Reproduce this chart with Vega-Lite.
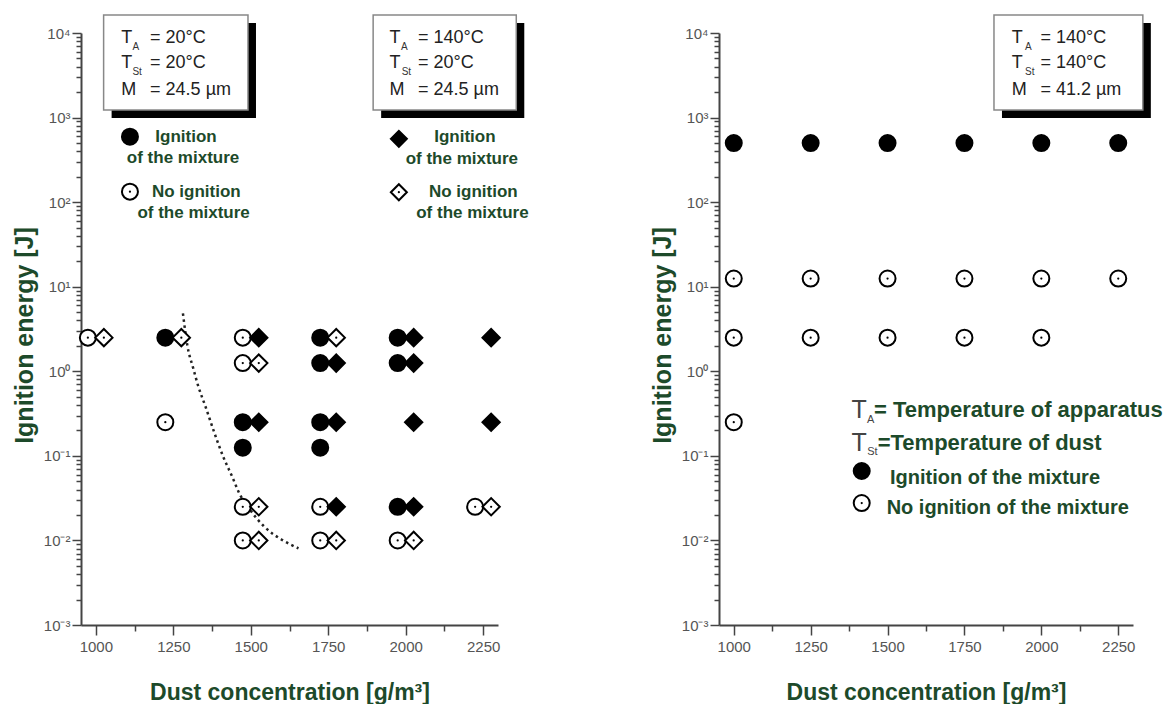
{
  "$schema": "https://vega.github.io/schema/vega-lite/v6.json",
  "background": "white",
  "padding": {"left": 12, "top": 14, "right": 0, "bottom": 0},
  "spacing": 121,
  "config": {
    "view": {"stroke": null},
    "font": "Liberation Sans",
    "axis": {
      "grid": false,
      "domainColor": "#444",
      "domainWidth": 2,
      "tickColor": "#444",
      "tickWidth": 1.5,
      "labelFont": "Liberation Sans",
      "labelFontSize": 15,
      "labelColor": "#555",
      "labelFlush": false,
      "labelOverlap": false,
      "titleFont": "Liberation Sans",
      "titleFontSize": 23,
      "titleFontWeight": "bold",
      "titleColor": "#1d4a2a"
    }
  },
  "datasets": {
    "leftPoints": [
      {"conc": 1000, "energy": 2.5, "series": "A", "result": "no ignition"},
      {"conc": 1250, "energy": 2.5, "series": "A", "result": "ignition"},
      {"conc": 1250, "energy": 0.25, "series": "A", "result": "no ignition"},
      {"conc": 1500, "energy": 2.5, "series": "A", "result": "no ignition"},
      {"conc": 1500, "energy": 1.25, "series": "A", "result": "no ignition"},
      {"conc": 1500, "energy": 0.25, "series": "A", "result": "ignition"},
      {"conc": 1500, "energy": 0.125, "series": "A", "result": "ignition"},
      {"conc": 1500, "energy": 0.025, "series": "A", "result": "no ignition"},
      {"conc": 1500, "energy": 0.01, "series": "A", "result": "no ignition"},
      {"conc": 1750, "energy": 2.5, "series": "A", "result": "ignition"},
      {"conc": 1750, "energy": 1.25, "series": "A", "result": "ignition"},
      {"conc": 1750, "energy": 0.25, "series": "A", "result": "ignition"},
      {"conc": 1750, "energy": 0.125, "series": "A", "result": "ignition"},
      {"conc": 1750, "energy": 0.025, "series": "A", "result": "no ignition"},
      {"conc": 1750, "energy": 0.01, "series": "A", "result": "no ignition"},
      {"conc": 2000, "energy": 2.5, "series": "A", "result": "ignition"},
      {"conc": 2000, "energy": 1.25, "series": "A", "result": "ignition"},
      {"conc": 2000, "energy": 0.025, "series": "A", "result": "ignition"},
      {"conc": 2000, "energy": 0.01, "series": "A", "result": "no ignition"},
      {"conc": 2250, "energy": 0.025, "series": "A", "result": "no ignition"},
      {"conc": 1000, "energy": 2.5, "series": "B", "result": "no ignition"},
      {"conc": 1250, "energy": 2.5, "series": "B", "result": "no ignition"},
      {"conc": 1500, "energy": 2.5, "series": "B", "result": "ignition"},
      {"conc": 1500, "energy": 1.25, "series": "B", "result": "no ignition"},
      {"conc": 1500, "energy": 0.25, "series": "B", "result": "ignition"},
      {"conc": 1500, "energy": 0.025, "series": "B", "result": "no ignition"},
      {"conc": 1500, "energy": 0.01, "series": "B", "result": "no ignition"},
      {"conc": 1750, "energy": 2.5, "series": "B", "result": "no ignition"},
      {"conc": 1750, "energy": 1.25, "series": "B", "result": "ignition"},
      {"conc": 1750, "energy": 0.25, "series": "B", "result": "ignition"},
      {"conc": 1750, "energy": 0.025, "series": "B", "result": "ignition"},
      {"conc": 1750, "energy": 0.01, "series": "B", "result": "no ignition"},
      {"conc": 2000, "energy": 2.5, "series": "B", "result": "ignition"},
      {"conc": 2000, "energy": 1.25, "series": "B", "result": "ignition"},
      {"conc": 2000, "energy": 0.25, "series": "B", "result": "ignition"},
      {"conc": 2000, "energy": 0.025, "series": "B", "result": "ignition"},
      {"conc": 2000, "energy": 0.01, "series": "B", "result": "no ignition"},
      {"conc": 2250, "energy": 2.5, "series": "B", "result": "ignition"},
      {"conc": 2250, "energy": 0.25, "series": "B", "result": "ignition"},
      {"conc": 2250, "energy": 0.025, "series": "B", "result": "no ignition"}
    ],
    "leftCurve": [
      {"conc": 1281, "energy": 4.85},
      {"conc": 1296, "energy": 1.95},
      {"conc": 1313, "energy": 1.13},
      {"conc": 1331, "energy": 0.657},
      {"conc": 1354, "energy": 0.381},
      {"conc": 1383, "energy": 0.185},
      {"conc": 1411, "energy": 0.0977},
      {"conc": 1440, "energy": 0.0567},
      {"conc": 1463, "energy": 0.036},
      {"conc": 1498, "energy": 0.0229},
      {"conc": 1544, "energy": 0.0145},
      {"conc": 1602, "energy": 0.0101},
      {"conc": 1654, "energy": 0.00807}
    ],
    "leftBoxes": [
      {"conc": 1025, "conc2": 1491, "energy": 1229, "energy2": 16330},
      {"conc": 1895, "conc2": 2357, "energy": 1229, "energy2": 16330}
    ],
    "leftText": [
      {"conc": 1082, "energy": 8650, "text": "T", "role": "box"},
      {"conc": 1175, "energy": 8650, "text": "= 20°C", "role": "box"},
      {"conc": 1082, "energy": 4384, "text": "T", "role": "box"},
      {"conc": 1175, "energy": 4384, "text": "= 20°C", "role": "box"},
      {"conc": 1082, "energy": 2118, "text": "M", "role": "box"},
      {"conc": 1175, "energy": 2118, "text": "= 24.5 µm", "role": "box"},
      {"conc": 1118, "energy": 6890, "text": "A", "role": "sub"},
      {"conc": 1118, "energy": 3458, "text": "St", "role": "sub"},
      {"conc": 1948, "energy": 8650, "text": "T", "role": "box"},
      {"conc": 2040, "energy": 8650, "text": "= 140°C", "role": "box"},
      {"conc": 1948, "energy": 4384, "text": "T", "role": "box"},
      {"conc": 2040, "energy": 4384, "text": "=  20°C", "role": "box"},
      {"conc": 1948, "energy": 2118, "text": "M", "role": "box"},
      {"conc": 2040, "energy": 2118, "text": "= 24.5 µm", "role": "box"},
      {"conc": 1985, "energy": 6890, "text": "A", "role": "sub"},
      {"conc": 1987, "energy": 3458, "text": "St", "role": "sub"},
      {"conc": 1192, "energy": 594, "text": "Ignition", "role": "legend"},
      {"conc": 1100, "energy": 330, "text": "of the mixture", "role": "legend"},
      {"conc": 1181, "energy": 133, "text": "No ignition", "role": "legend"},
      {"conc": 1134, "energy": 73.8, "text": "of the mixture", "role": "legend"},
      {"conc": 2092, "energy": 585, "text": "Ignition", "role": "legend"},
      {"conc": 2000, "energy": 321, "text": "of the mixture", "role": "legend"},
      {"conc": 2075, "energy": 133, "text": "No ignition", "role": "legend"},
      {"conc": 2034, "energy": 73.8, "text": "of the mixture", "role": "legend"}
    ],
    "leftLegend": [
      {"conc": 1110, "energy": 594, "series": "A", "result": "ignition"},
      {"conc": 1110, "energy": 133, "series": "A", "result": "no ignition"},
      {"conc": 1978, "energy": 560, "series": "B", "result": "ignition"},
      {"conc": 1978, "energy": 131, "series": "B", "result": "no ignition"}
    ],
    "rightPoints": [
      {"conc": 1000, "energy": 500, "result": "ignition"},
      {"conc": 1250, "energy": 500, "result": "ignition"},
      {"conc": 1500, "energy": 500, "result": "ignition"},
      {"conc": 1750, "energy": 500, "result": "ignition"},
      {"conc": 2000, "energy": 500, "result": "ignition"},
      {"conc": 2250, "energy": 500, "result": "ignition"},
      {"conc": 1000, "energy": 12.5, "result": "no ignition"},
      {"conc": 1250, "energy": 12.5, "result": "no ignition"},
      {"conc": 1500, "energy": 12.5, "result": "no ignition"},
      {"conc": 1750, "energy": 12.5, "result": "no ignition"},
      {"conc": 2000, "energy": 12.5, "result": "no ignition"},
      {"conc": 2250, "energy": 12.5, "result": "no ignition"},
      {"conc": 1000, "energy": 2.5, "result": "no ignition"},
      {"conc": 1250, "energy": 2.5, "result": "no ignition"},
      {"conc": 1500, "energy": 2.5, "result": "no ignition"},
      {"conc": 1750, "energy": 2.5, "result": "no ignition"},
      {"conc": 2000, "energy": 2.5, "result": "no ignition"},
      {"conc": 1000, "energy": 0.25, "result": "no ignition"}
    ],
    "rightBoxes": [
      {"conc": 1846, "conc2": 2330, "energy": 1229, "energy2": 16330}
    ],
    "rightText": [
      {"conc": 1904, "energy": 8650, "text": "T", "role": "box"},
      {"conc": 1997, "energy": 8650, "text": "= 140°C", "role": "box"},
      {"conc": 1904, "energy": 4384, "text": "T", "role": "box"},
      {"conc": 1997, "energy": 4384, "text": "= 140°C", "role": "box"},
      {"conc": 1904, "energy": 2118, "text": "M", "role": "box"},
      {"conc": 1997, "energy": 2118, "text": "= 41.2 µm", "role": "box"},
      {"conc": 1947, "energy": 6890, "text": "A", "role": "sub"},
      {"conc": 1947, "energy": 3436, "text": "St", "role": "sub"},
      {"conc": 1383, "energy": 0.348, "text": "T", "role": "legT"},
      {"conc": 1383, "energy": 0.1419, "text": "T", "role": "legT"},
      {"conc": 1433, "energy": 0.2655, "text": "A", "role": "legSub"},
      {"conc": 1434, "energy": 0.1111, "text": "St", "role": "legSub"},
      {"conc": 1456, "energy": 0.348, "text": "= Temperature of apparatus", "role": "legBig"},
      {"conc": 1468, "energy": 0.1419, "text": "=Temperature of dust", "role": "legBig"},
      {"conc": 1508, "energy": 0.0547, "text": "Ignition of the mixture", "role": "legMid"},
      {"conc": 1497, "energy": 0.02415, "text": "No ignition of the mixture", "role": "legMid"}
    ],
    "rightLegend": [
      {"conc": 1416, "energy": 0.0662, "result": "ignition"},
      {"conc": 1416, "energy": 0.02767, "result": "no ignition"}
    ]
  },
  "hconcat": [
    {
      "width": 417,
      "height": 592,
      "encoding": {
        "x": {
          "field": "conc", "type": "quantitative",
          "scale": {"domain": [952, 2298], "nice": false, "zero": false},
          "axis": {
            "title": "Dust concentration [g/m³]",
            "values": [1000, 1125, 1250, 1375, 1500, 1625, 1750, 1875, 2000, 2125, 2250],
            "format": "d",
            "labelExpr": "datum.value % 250 === 0 ? datum.label : ''",
            "tickSize": {"condition": {"test": "datum.value % 250 === 0", "value": 10}, "value": 6},
            "labelPadding": 4,
            "titlePadding": 27
          }
        },
        "y": {
          "field": "energy", "type": "quantitative",
          "scale": {"type": "log", "domain": [0.001, 10000], "nice": false},
          "axis": {
            "title": "Ignition energy  [J]",
            "titleFontSize": 25,
            "titleY": 302,
            "values": [0.001,0.002,0.003,0.004,0.005,0.006,0.007,0.008,0.009,0.01,0.02,0.03,0.04,0.05,0.06,0.07,0.08,0.09,0.1,0.2,0.3,0.4,0.5,0.6,0.7,0.8,0.9,1,2,3,4,5,6,7,8,9,10,20,30,40,50,60,70,80,90,100,200,300,400,500,600,700,800,900,1000,2000,3000,4000,5000,6000,7000,8000,9000,10000],
            "labelExpr": "abs(log(datum.value)/LN10 - round(log(datum.value)/LN10)) < 0.000001 ? '10' + ['⁻³','⁻²','⁻¹','⁰','¹','²','³','⁴'][round(log(datum.value)/LN10) + 3] : ''",
            "tickSize": {"condition": {"test": "abs(log(datum.value)/LN10 - round(log(datum.value)/LN10)) < 0.000001", "value": 9}, "value": 5},
            "labelPadding": 2,
            "titlePadding": 6
          }
        }
      },
      "layer": [
        {"data": {"name": "leftBoxes"}, "mark": {"type": "rect", "fill": "black", "xOffset": 8, "x2Offset": 8, "yOffset": 8, "y2Offset": 8}, "encoding": {"x2": {"field": "conc2"}, "y2": {"field": "energy2"}}},
        {"data": {"name": "leftBoxes"}, "mark": {"type": "rect", "fill": "white", "stroke": "#888", "strokeWidth": 1.5}, "encoding": {"x2": {"field": "conc2"}, "y2": {"field": "energy2"}}},
        {"data": {"name": "leftText"}, "transform": [{"filter": "datum.role === 'box'"}], "mark": {"type": "text", "align": "left", "baseline": "middle", "fontSize": 18, "color": "#222"}, "encoding": {"text": {"field": "text"}}},
        {"data": {"name": "leftText"}, "transform": [{"filter": "datum.role === 'sub'"}], "mark": {"type": "text", "align": "left", "baseline": "middle", "fontSize": 10, "color": "#333"}, "encoding": {"text": {"field": "text"}}},
        {"data": {"name": "leftText"}, "transform": [{"filter": "datum.role === 'legend'"}], "mark": {"type": "text", "align": "left", "baseline": "middle", "fontSize": 17, "fontWeight": "bold", "color": "#1d4a2a"}, "encoding": {"text": {"field": "text"}}},
        {"data": {"name": "leftCurve"}, "mark": {"type": "line", "strokeDash": [2.5, 3.5], "strokeWidth": 2.5, "color": "#222", "interpolate": "monotone"}, "encoding": {}},
        {"data": {"name": "leftPoints"}, "transform": [{"filter": "datum.series === 'A'"}], "mark": {"type": "point", "shape": "circle", "filled": true, "size": 256, "stroke": "black", "strokeWidth": 2, "opacity": 1, "xOffset": -8},
         "encoding": {"fill": {"field": "result", "type": "nominal", "scale": {"domain": ["ignition", "no ignition"], "range": ["black", "white"]}, "legend": null}}},
        {"data": {"name": "leftPoints"}, "transform": [{"filter": "datum.series === 'B'"}], "mark": {"type": "point", "shape": "diamond", "filled": true, "size": 300, "stroke": "black", "strokeWidth": 2, "opacity": 1, "xOffset": 8},
         "encoding": {"fill": {"field": "result", "type": "nominal", "scale": {"domain": ["ignition", "no ignition"], "range": ["black", "white"]}, "legend": null}}},
        {"data": {"name": "leftPoints"}, "transform": [{"filter": "datum.series === 'A' && datum.result === 'no ignition'"}], "mark": {"type": "point", "shape": "circle", "filled": true, "size": 5, "color": "black", "opacity": 1, "xOffset": -8}},
        {"data": {"name": "leftPoints"}, "transform": [{"filter": "datum.series === 'B' && datum.result === 'no ignition'"}], "mark": {"type": "point", "shape": "circle", "filled": true, "size": 5, "color": "black", "opacity": 1, "xOffset": 8}},
        {"data": {"name": "leftLegend"}, "mark": {"type": "point", "filled": true, "size": 256, "stroke": "black", "strokeWidth": 2, "opacity": 1},
         "encoding": {
           "fill": {"field": "result", "type": "nominal", "scale": {"domain": ["ignition", "no ignition"], "range": ["black", "white"]}, "legend": null},
           "shape": {"field": "series", "type": "nominal", "scale": {"domain": ["A", "B"], "range": ["circle", "diamond"]}, "legend": null}
         }},
        {"data": {"name": "leftLegend"}, "transform": [{"filter": "datum.result === 'no ignition'"}], "mark": {"type": "point", "shape": "circle", "filled": true, "size": 5, "color": "black", "opacity": 1}}
      ]
    },
    {
      "width": 414,
      "height": 592,
      "encoding": {
        "x": {
          "field": "conc", "type": "quantitative",
          "scale": {"domain": [952, 2298], "nice": false, "zero": false},
          "axis": {
            "title": "Dust concentration [g/m³]",
            "values": [1000, 1125, 1250, 1375, 1500, 1625, 1750, 1875, 2000, 2125, 2250],
            "format": "d",
            "labelExpr": "datum.value % 250 === 0 ? datum.label : ''",
            "tickSize": {"condition": {"test": "datum.value % 250 === 0", "value": 10}, "value": 6},
            "labelPadding": 4,
            "titlePadding": 27
          }
        },
        "y": {
          "field": "energy", "type": "quantitative",
          "scale": {"type": "log", "domain": [0.001, 10000], "nice": false},
          "axis": {
            "title": "Ignition energy  [J]",
            "titleFontSize": 25,
            "titleY": 302,
            "values": [0.001,0.002,0.003,0.004,0.005,0.006,0.007,0.008,0.009,0.01,0.02,0.03,0.04,0.05,0.06,0.07,0.08,0.09,0.1,0.2,0.3,0.4,0.5,0.6,0.7,0.8,0.9,1,2,3,4,5,6,7,8,9,10,20,30,40,50,60,70,80,90,100,200,300,400,500,600,700,800,900,1000,2000,3000,4000,5000,6000,7000,8000,9000,10000],
            "labelExpr": "abs(log(datum.value)/LN10 - round(log(datum.value)/LN10)) < 0.000001 ? '10' + ['⁻³','⁻²','⁻¹','⁰','¹','²','³','⁴'][round(log(datum.value)/LN10) + 3] : ''",
            "tickSize": {"condition": {"test": "abs(log(datum.value)/LN10 - round(log(datum.value)/LN10)) < 0.000001", "value": 9}, "value": 5},
            "labelPadding": 2,
            "titlePadding": 6
          }
        }
      },
      "layer": [
        {"data": {"name": "rightBoxes"}, "mark": {"type": "rect", "fill": "black", "xOffset": 8, "x2Offset": 8, "yOffset": 8, "y2Offset": 8}, "encoding": {"x2": {"field": "conc2"}, "y2": {"field": "energy2"}}},
        {"data": {"name": "rightBoxes"}, "mark": {"type": "rect", "fill": "white", "stroke": "#888", "strokeWidth": 1.5}, "encoding": {"x2": {"field": "conc2"}, "y2": {"field": "energy2"}}},
        {"data": {"name": "rightText"}, "transform": [{"filter": "datum.role === 'box'"}], "mark": {"type": "text", "align": "left", "baseline": "middle", "fontSize": 18, "color": "#222"}, "encoding": {"text": {"field": "text"}}},
        {"data": {"name": "rightText"}, "transform": [{"filter": "datum.role === 'sub'"}], "mark": {"type": "text", "align": "left", "baseline": "middle", "fontSize": 10, "color": "#333"}, "encoding": {"text": {"field": "text"}}},
        {"data": {"name": "rightText"}, "transform": [{"filter": "datum.role === 'legT'"}], "mark": {"type": "text", "align": "left", "baseline": "middle", "fontSize": 25, "color": "#444"}, "encoding": {"text": {"field": "text"}}},
        {"data": {"name": "rightText"}, "transform": [{"filter": "datum.role === 'legSub'"}], "mark": {"type": "text", "align": "left", "baseline": "middle", "fontSize": 11, "color": "#444"}, "encoding": {"text": {"field": "text"}}},
        {"data": {"name": "rightText"}, "transform": [{"filter": "datum.role === 'legBig'"}], "mark": {"type": "text", "align": "left", "baseline": "middle", "fontSize": 22, "fontWeight": "bold", "color": "#1d4a2a"}, "encoding": {"text": {"field": "text"}}},
        {"data": {"name": "rightText"}, "transform": [{"filter": "datum.role === 'legMid'"}], "mark": {"type": "text", "align": "left", "baseline": "middle", "fontSize": 20, "fontWeight": "bold", "color": "#1d4a2a"}, "encoding": {"text": {"field": "text"}}},
        {"data": {"name": "rightPoints"}, "mark": {"type": "point", "shape": "circle", "filled": true, "size": 256, "stroke": "black", "strokeWidth": 2, "opacity": 1},
         "encoding": {"fill": {"field": "result", "type": "nominal", "scale": {"domain": ["ignition", "no ignition"], "range": ["black", "white"]}, "legend": null}}},
        {"data": {"name": "rightPoints"}, "transform": [{"filter": "datum.result === 'no ignition'"}], "mark": {"type": "point", "shape": "circle", "filled": true, "size": 5, "color": "black", "opacity": 1}},
        {"data": {"name": "rightLegend"}, "mark": {"type": "point", "shape": "circle", "filled": true, "size": 256, "stroke": "black", "strokeWidth": 2, "opacity": 1},
         "encoding": {"fill": {"field": "result", "type": "nominal", "scale": {"domain": ["ignition", "no ignition"], "range": ["black", "white"]}, "legend": null}}},
        {"data": {"name": "rightLegend"}, "transform": [{"filter": "datum.result === 'no ignition'"}], "mark": {"type": "point", "shape": "circle", "filled": true, "size": 5, "color": "black", "opacity": 1}}
      ]
    }
  ]
}
